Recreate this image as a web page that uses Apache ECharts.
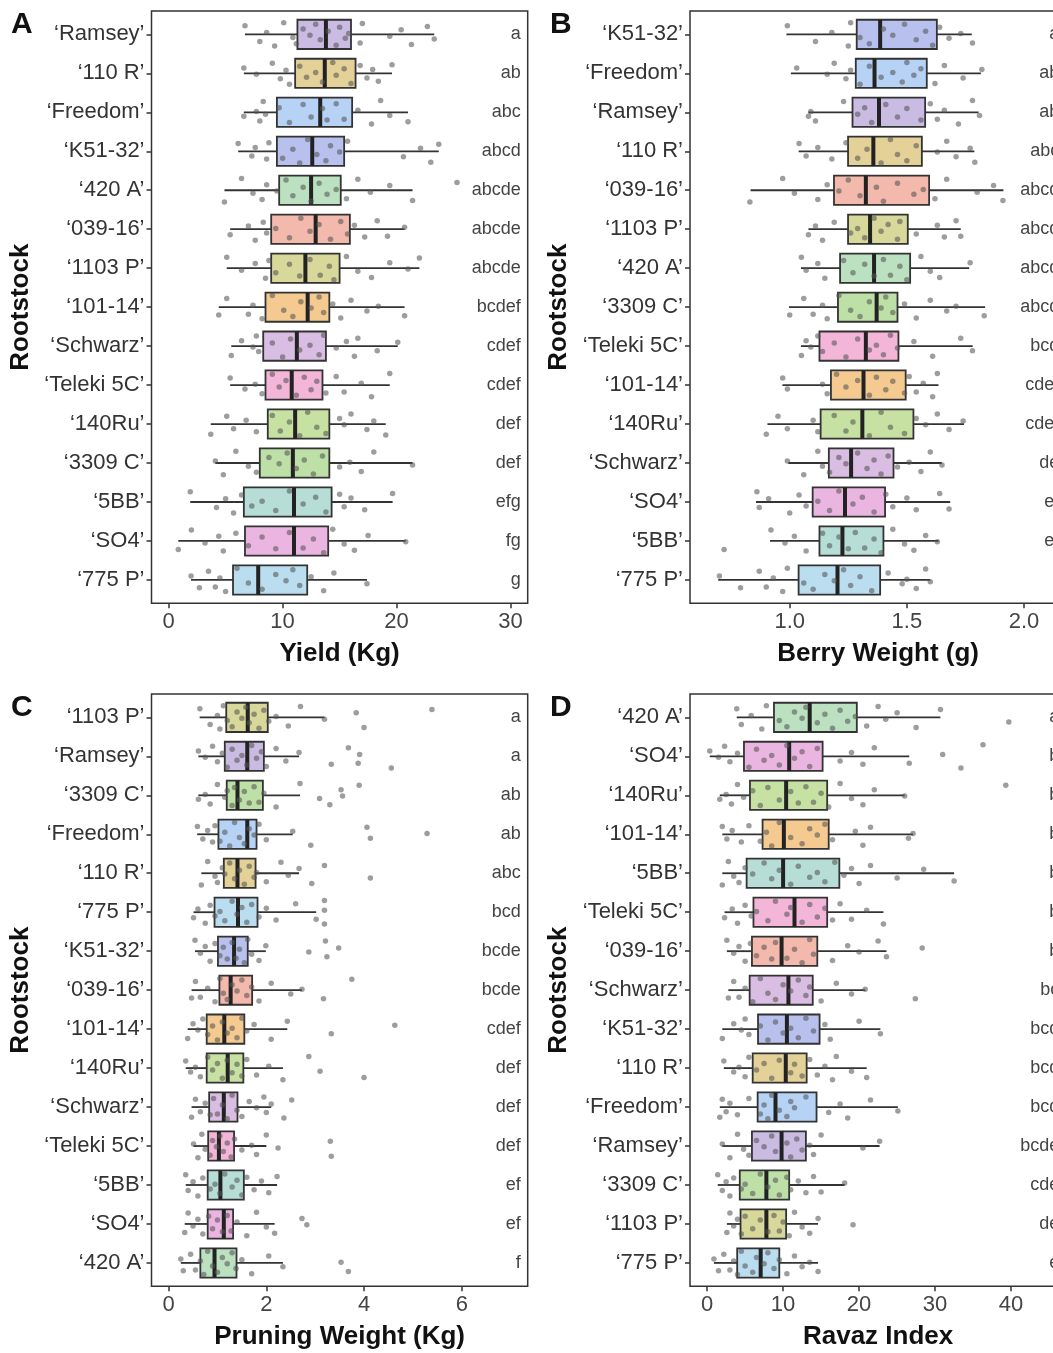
<!DOCTYPE html>
<html><head><meta charset="utf-8">
<script src="https://cdn.jsdelivr.net/npm/echarts@6/dist/echarts.min.js"></script>
<style>html,body{margin:0;padding:0;background:#fff}#c{width:1053px;height:1353px}</style>
</head><body><div id="c"></div><script>
// ---------------- DATA ----------------
// Panel A: Yield (Kg)
const yieldRootstocks = ['Ramsey','110 R','Freedom','K51-32','420 A','039-16','1103 P','101-14','Schwarz','Teleki 5C','140Ru','3309 C','5BB','SO4','775 P'];
const yieldLetters = ['a','ab','abc','abcd','abcde','abcde','abcde','bcdef','cdef','cdef','def','def','efg','fg','g'];
const yieldBoxes = [
  [6.7,11.3,13.8,16.0,23.3],[6.6,11.1,13.7,16.4,19.6],[6.6,9.5,13.3,16.1,21.0],[6.1,9.5,12.6,15.4,23.7],
  [4.9,9.7,12.5,15.1,21.4],[5.4,9.0,12.9,15.9,20.7],[5.1,9.0,12.0,15.0,22.0],[4.4,8.5,12.2,14.1,20.7],
  [5.5,8.3,11.25,13.8,20.1],[5.4,8.5,10.8,13.5,19.4],[3.7,8.7,11.1,14.1,19.05],[4.1,8.0,10.9,14.1,21.4],
  [1.9,6.6,11.0,14.3,19.65],[0.85,6.7,11.0,14.0,20.8],[1.97,5.65,7.86,12.16,17.4]
];
const yieldPoints = [
  [6.7,8.0,8.6,9.3,10.1,10.9,11.2,11.8,12.4,12.9,13.3,14.0,14.7,15.0,15.5,15.8,16.8,17.0,19.4,20.4,21.3,22.7,23.3],
  [6.6,7.7,9.1,9.8,10.3,10.6,11.5,12.1,12.9,13.5,14.4,14.7,15.4,16.0,16.8,17.4,17.9,18.4,19.6],
  [6.6,7.7,8.0,8.3,8.5,9.7,10.6,11.8,12.5,13.5,13.9,14.7,15.4,16.6,17.8,18.6,19.4,21.0],
  [6.1,7.3,7.6,8.6,8.8,10.0,10.9,11.5,12.2,13.0,13.8,14.2,15.0,15.7,20.6,22.1,23.0,23.7],
  [4.9,6.4,7.4,8.2,8.6,9.5,10.3,10.9,11.8,12.5,13.2,13.9,14.7,15.6,16.6,17.7,19.4,21.4,25.3],
  [5.4,7.0,7.6,8.3,8.6,9.4,10.6,11.6,12.4,13.2,14.2,15.1,15.7,16.3,17.2,18.3,19.2,20.7],
  [5.1,6.4,7.6,8.5,8.8,9.4,10.6,11.5,12.4,13.3,14.1,14.5,15.6,16.6,17.8,19.4,21.0,22.0],
  [4.4,5.1,7.0,7.4,8.2,9.1,10.1,10.9,11.6,12.5,13.2,13.6,14.4,15.1,16.0,17.4,18.4,20.7],
  [5.5,6.4,7.4,7.7,7.9,9.1,10.0,10.7,11.5,12.4,13.2,13.6,14.7,15.6,16.3,16.6,18.3,20.1],
  [5.4,6.7,7.6,8.2,9.1,9.7,10.3,11.2,11.9,12.5,13.0,13.8,14.7,15.4,16.9,17.8,19.4],
  [3.7,5.1,5.7,6.8,7.7,9.1,9.8,10.6,11.5,12.2,13.0,13.8,15.0,15.4,16.0,17.4,18.0,19.05],
  [4.1,4.8,5.9,7.0,7.7,8.8,9.7,10.4,11.2,11.9,12.7,13.5,15.0,15.9,16.9,18.0,21.4],
  [1.9,4.2,5.0,5.7,6.4,7.3,8.2,9.4,10.6,11.8,12.9,13.8,15.0,15.4,16.0,17.2,19.65],
  [0.85,2.0,3.2,4.4,4.8,5.9,7.0,8.2,9.4,10.6,11.8,12.7,13.6,14.4,15.4,16.3,17.5,20.8],
  [1.97,2.7,3.5,4.1,4.5,5.0,6.0,7.0,8.2,9.4,10.3,10.9,11.5,12.5,13.6,14.5,17.4]
];
const yieldTicks = [0,10,20,30];

// Panel B: Berry Weight (g)
const berryRootstocks = ['K51-32','Freedom','Ramsey','110 R','039-16','1103 P','420 A','3309 C','Teleki 5C','101-14','140Ru','Schwarz','SO4','5BB','775 P'];
const berryLetters = ['a','ab','ab','abc','abcd','abcd','abcd','abcd','bcd','cdef','cdef','de','ef','ef','f'];
const berryBoxes = [
  [0.986,1.286,1.386,1.628,1.777],[1.005,1.282,1.362,1.585,1.816],[1.08,1.268,1.381,1.578,1.806],[1.038,1.249,1.357,1.564,1.788],
  [0.833,1.189,1.325,1.595,1.912],[1.08,1.249,1.343,1.504,1.73],[1.048,1.215,1.36,1.514,1.766],[0.997,1.206,1.371,1.46,1.834],
  [1.048,1.127,1.325,1.464,1.781],[0.969,1.176,1.315,1.495,1.635],[0.905,1.132,1.31,1.528,1.744],[0.994,1.167,1.262,1.443,1.649],
  [0.856,1.098,1.236,1.407,1.685],[0.916,1.127,1.225,1.4,1.635],[0.695,1.038,1.204,1.386,1.6]
];
const berryPoints = [
  [0.99,1.11,1.18,1.25,1.26,1.30,1.34,1.40,1.44,1.49,1.54,1.58,1.61,1.64,1.68,1.73,1.78],
  [1.03,1.16,1.19,1.24,1.26,1.30,1.34,1.39,1.44,1.48,1.50,1.53,1.56,1.62,1.66,1.74,1.82],
  [1.08,1.09,1.11,1.23,1.29,1.32,1.35,1.41,1.46,1.50,1.56,1.60,1.63,1.66,1.72,1.78,1.81],
  [1.04,1.07,1.12,1.18,1.24,1.29,1.33,1.39,1.43,1.46,1.50,1.54,1.63,1.67,1.71,1.77,1.79],
  [0.83,0.97,1.02,1.12,1.16,1.21,1.25,1.30,1.37,1.40,1.46,1.53,1.57,1.62,1.67,1.80,1.87,1.91],
  [1.08,1.11,1.14,1.19,1.26,1.29,1.32,1.36,1.39,1.42,1.46,1.47,1.54,1.63,1.66,1.71,1.73],
  [1.05,1.07,1.12,1.15,1.23,1.27,1.32,1.36,1.40,1.43,1.47,1.50,1.56,1.60,1.64,1.77],
  [1.00,1.06,1.10,1.14,1.16,1.21,1.26,1.30,1.34,1.39,1.41,1.44,1.49,1.54,1.60,1.67,1.71,1.83],
  [1.05,1.07,1.09,1.12,1.14,1.19,1.24,1.29,1.34,1.37,1.40,1.43,1.46,1.53,1.61,1.73,1.78],
  [0.97,0.99,1.14,1.16,1.20,1.24,1.29,1.34,1.37,1.41,1.44,1.49,1.51,1.54,1.57,1.61,1.63],
  [0.90,0.95,0.99,1.10,1.12,1.19,1.24,1.27,1.34,1.39,1.43,1.49,1.54,1.58,1.63,1.68,1.74],
  [0.99,1.06,1.12,1.14,1.17,1.21,1.24,1.29,1.33,1.36,1.39,1.42,1.46,1.51,1.56,1.60,1.65],
  [0.86,0.87,0.91,1.00,1.04,1.07,1.12,1.17,1.21,1.27,1.31,1.36,1.41,1.44,1.50,1.54,1.64,1.68],
  [0.72,0.92,0.98,1.02,1.07,1.14,1.17,1.21,1.25,1.28,1.32,1.36,1.39,1.44,1.49,1.53,1.58,1.63],
  [0.70,0.79,0.87,0.90,0.93,0.97,0.99,1.06,1.10,1.15,1.19,1.23,1.26,1.30,1.35,1.42,1.48,1.50,1.54,1.58,1.60]
];
const berryTicks = [1.0,1.5,2.0];

// Panel C: Pruning Weight (Kg)
const pruningRootstocks = ['1103 P','Ramsey','3309 C','Freedom','110 R','775 P','K51-32','039-16','101-14','140Ru','Schwarz','Teleki 5C','5BB','SO4','420 A'];
const pruningLetters = ['a','a','ab','ab','abc','bcd','bcde','bcde','cdef','def','def','def','ef','ef','f'];
const pruningBoxes = [
  [0.635,1.18,1.62,2.03,3.19],[0.61,1.15,1.61,1.95,2.67],[0.61,1.19,1.41,1.93,2.69],[0.585,1.02,1.61,1.80,2.54],
  [0.67,1.13,1.41,1.78,2.67],[0.51,0.94,1.42,1.82,3.02],[0.54,1.01,1.34,1.62,1.99],[0.47,1.04,1.27,1.71,2.73],
  [0.39,0.78,1.14,1.55,2.43],[0.35,0.78,1.21,1.53,2.34],[0.47,0.83,1.13,1.41,2.10],[0.51,0.81,1.03,1.34,2.0],
  [0.35,0.80,1.06,1.54,2.22],[0.33,0.80,1.13,1.32,2.17],[0.25,0.65,0.94,1.39,2.34]
];
const pruningPoints = [
  [0.64,0.85,1.0,1.05,1.12,1.2,1.3,1.4,1.5,1.58,1.65,1.75,1.85,1.95,2.05,2.2,2.45,2.7,3.19,3.84,4.0,5.39],
  [0.61,0.75,0.9,1.0,1.1,1.2,1.3,1.4,1.5,1.6,1.7,1.8,1.9,2.0,2.2,2.4,2.67,3.33,3.68,3.88,3.91,4.56],
  [0.61,0.75,0.85,1.0,1.15,1.2,1.3,1.35,1.45,1.55,1.65,1.75,1.85,1.95,2.2,2.69,3.09,3.3,3.53,3.56,3.9],
  [0.59,0.7,0.8,0.9,0.95,1.05,1.15,1.25,1.35,1.45,1.55,1.65,1.75,1.85,2.0,2.54,2.91,4.06,4.13,5.29],
  [0.67,0.8,0.95,1.0,1.1,1.15,1.25,1.35,1.45,1.55,1.65,1.75,1.8,2.0,2.3,2.45,2.67,2.93,3.19,4.13],
  [0.51,0.6,0.75,0.85,0.95,1.05,1.15,1.3,1.4,1.5,1.6,1.7,1.85,2.0,2.2,2.6,3.02,3.19,3.19,3.19],
  [0.54,0.65,0.75,0.85,0.95,1.05,1.12,1.2,1.3,1.38,1.45,1.55,1.62,1.7,1.85,1.99,2.87,3.21,3.24,3.48],
  [0.47,0.55,0.65,0.8,0.95,1.05,1.12,1.2,1.3,1.4,1.5,1.6,1.7,1.85,2.1,2.5,2.73,3.17,3.75],
  [0.39,0.5,0.6,0.7,0.8,0.9,1.0,1.1,1.2,1.3,1.4,1.5,1.6,1.75,2.1,2.43,3.33,4.63],
  [0.35,0.45,0.55,0.65,0.8,0.9,1.0,1.1,1.2,1.3,1.4,1.5,1.6,1.8,2.05,2.34,2.87,3.1,4.0],
  [0.47,0.55,0.65,0.75,0.85,0.92,1.0,1.1,1.2,1.3,1.4,1.5,1.65,1.8,1.95,2.0,2.1,2.36,2.52],
  [0.51,0.6,0.68,0.75,0.85,0.9,0.98,1.05,1.12,1.2,1.28,1.35,1.5,1.7,1.8,2.0,2.24,3.31,3.33],
  [0.35,0.4,0.5,0.6,0.7,0.85,0.95,1.05,1.15,1.3,1.4,1.5,1.6,1.75,1.9,2.05,2.22],
  [0.33,0.4,0.5,0.6,0.7,0.82,0.9,1.0,1.1,1.2,1.28,1.4,1.6,1.8,2.0,2.17,2.73,2.83],
  [0.25,0.3,0.45,0.55,0.65,0.72,0.8,0.9,1.0,1.1,1.2,1.3,1.38,1.5,1.7,2.05,2.34,3.53,3.68]
];
const pruningTicks = [0,2,4,6];

// Panel D: Ravaz Index
const ravazRootstocks = ['420 A','SO4','140Ru','101-14','5BB','Teleki 5C','039-16','Schwarz','K51-32','110 R','Freedom','Ramsey','3309 C','1103 P','775 P'];
const ravazLetters = ['a','b','b','b','b','b','b','bc','bcd','bcd','bcd','bcde','cde','de','e'];
const ravazBoxes = [
  [3.9,8.8,13.5,19.7,30.7],[0.35,4.85,10.8,15.2,26.6],[1.67,5.64,10.4,15.8,26.0],[2.0,7.3,10.1,16.0,27.1],
  [2.0,5.2,10.0,17.4,32.5],[2.3,6.1,11.5,15.8,23.2],[2.6,5.9,9.8,14.5,23.6],[2.8,5.6,10.7,13.9,20.8],
  [2.0,6.7,10.5,14.8,22.8],[2.2,6.0,10.35,13.1,21.0],[1.67,6.65,9.0,14.4,25.1],[2.0,5.9,9.8,13.0,22.7],
  [1.4,4.3,7.8,10.8,18.1],[2.6,4.4,7.8,10.4,14.6],[0.9,3.96,7.05,9.5,14.6]
];
const ravazPoints = [
  [3.9,4.5,5.8,7.2,7.8,9.5,10.5,11.5,12.5,13.0,14.5,15.5,16.5,17.5,18.5,19.5,21.0,22.5,23.5,25.0,27.5,30.7,39.7],
  [0.35,1.5,2.3,3.0,4.0,5.5,6.5,7.5,8.5,9.5,10.5,11.5,12.5,13.5,14.5,17.5,19.0,20.5,22.0,26.6,31.0,33.4,36.3],
  [1.67,2.5,3.2,4.0,4.8,6.0,7.0,8.0,9.5,11.0,12.0,13.0,14.0,15.0,16.0,17.5,19.0,20.5,22.0,26.0,39.3],
  [2.0,2.6,3.3,4.5,5.5,7.0,7.8,8.5,9.5,11.0,12.5,13.5,14.5,15.5,16.5,19.5,20.5,21.5,26.5,27.1],
  [2.0,2.8,3.5,4.2,5.0,6.0,7.5,8.5,9.5,11.0,12.0,13.5,14.5,15.5,16.8,18.0,19.0,20.0,21.5,25.0,28.5,32.5],
  [2.3,3.3,4.0,5.0,5.8,6.5,8.0,9.0,10.5,11.0,12.5,13.5,14.5,15.5,16.5,17.5,19.0,21.0,23.2],
  [2.6,3.5,4.2,5.0,5.7,6.5,7.5,8.5,9.0,10.5,11.5,12.5,13.5,14.0,16.5,18.5,20.0,22.5,23.6,28.3],
  [2.8,3.5,4.2,5.0,6.0,7.0,8.0,9.0,10.0,11.0,12.0,13.0,13.5,15.0,17.0,19.0,20.8,27.4],
  [2.0,3.5,4.5,5.0,5.5,7.0,8.0,9.0,10.0,11.0,12.0,13.0,14.0,15.5,16.2,20.0,22.8],
  [2.2,3.5,4.2,5.0,5.5,6.5,7.5,8.5,9.5,11.0,11.5,12.5,13.5,14.5,15.5,16.5,17.0,19.0,21.0],
  [1.67,2.0,2.5,3.0,4.0,5.5,7.0,7.5,8.0,8.5,9.5,10.5,11.0,11.5,13.0,16.0,17.5,18.5,21.5,25.1],
  [2.0,3.0,4.0,4.8,5.5,6.5,7.5,8.5,9.0,10.5,11.0,11.8,12.5,13.5,14.0,15.0,20.5,22.7],
  [1.4,2.0,2.5,3.0,3.5,4.5,5.0,6.0,7.0,8.0,9.0,9.5,10.5,11.0,12.0,13.0,14.0,15.0,18.1],
  [2.6,3.0,3.5,4.0,4.5,5.0,6.0,7.0,8.0,8.8,9.5,10.0,10.8,11.5,12.5,13.5,14.6,19.2],
  [0.9,1.5,2.2,3.0,3.5,4.0,4.5,5.0,6.0,6.5,7.5,8.0,8.8,9.5,10.5,11.5,12.5,13.5,14.6]
];
const ravazTicks = [0,10,20,30,40];

// ---------------- STYLE ----------------
const FILL = {
  'Ramsey':'#c9bbe2','110 R':'#e4d198','Freedom':'#b6d3f6','K51-32':'#b8c1ee','420 A':'#bbe1c0',
  '039-16':'#f3b9ad','1103 P':'#d7d89a','101-14':'#f4ca90','Schwarz':'#d9bde2','Teleki 5C':'#f3b6d9',
  '140Ru':'#c7e1a2','3309 C':'#bde0a6','5BB':'#b6ded6','SO4':'#eab6e1','775 P':'#badef0'
};
const JITTER = [-0.22,0.18,-0.05,0.3,-0.3,0.08,0.24,-0.14,0.02,-0.26,0.14,-0.08,0.28,-0.18,0.1,-0.02,0.22,-0.28,0.05,-0.12,0.26,-0.2,0.12,-0.1,0.2];
const FONT = 'Liberation Sans, Arial, sans-serif';

const panels = [
  {rs:yieldRootstocks, boxes:yieldBoxes, pts:yieldPoints, letters:yieldLetters, ticks:yieldTicks, min:-1.5, max:31.5, name:'Yield (Kg)', tag:'A', left:151.5, top:11},
  {rs:berryRootstocks, boxes:berryBoxes, pts:berryPoints, letters:berryLetters, ticks:berryTicks, min:0.5745, max:2.18, name:'Berry Weight (g)', tag:'B', left:690, top:11, fmt:v=>v.toFixed(1)},
  {rs:pruningRootstocks, boxes:pruningBoxes, pts:pruningPoints, letters:pruningLetters, ticks:pruningTicks, min:-0.35, max:7.35, name:'Pruning Weight (Kg)', tag:'C', left:151.5, top:694},
  {rs:ravazRootstocks, boxes:ravazBoxes, pts:ravazPoints, letters:ravazLetters, ticks:ravazTicks, min:-2.25, max:47.25, name:'Ravaz Index', tag:'D', left:690, top:694}
];
const W = 376.2, H = 592.3;
const rowIdx = [...Array(15).keys()];

const grid=[], xAxis=[], yAxis=[], series=[], title=[];
panels.forEach((p,i)=>{
  grid.push({left:p.left, top:p.top, width:W, height:H, show:true, borderColor:'#333', borderWidth:1.5,
    backgroundColor:'transparent', containLabel:false, outerBoundsMode:'none'});
  title.push({text:p.tag, left:p.tag==='A'||p.tag==='C'?6:545, top:p.top-6, textStyle:{fontFamily:FONT, fontSize:30, fontWeight:'bold', color:'#111'}});
  xAxis.push({type:'value', gridIndex:i, min:p.min, max:p.max, splitLine:{show:false},
    axisLine:{show:false, onZero:false},
    axisTick:{show:true, length:5, lineStyle:{color:'#333', width:1.5}, customValues:p.ticks},
    axisLabel:{customValues:p.ticks, margin:8, fontFamily:FONT, fontSize:22, color:'#444', formatter:p.fmt||(v=>String(v))},
    name:p.name, nameLocation:'middle', nameGap:38,
    nameTextStyle:{fontFamily:FONT, fontSize:26, fontWeight:'bold', color:'#111'}});
  yAxis.push({type:'value', gridIndex:i, position:'left', min:-0.6, max:14.6, inverse:true, splitLine:{show:false},
    axisLine:{show:false, onZero:false},
    axisTick:{show:true, length:5, lineStyle:{color:'#333', width:1.5}, customValues:rowIdx},
    axisLabel:{customValues:rowIdx, margin:7, fontFamily:FONT, fontSize:22, color:'#333', formatter:v=>'\u2018'+p.rs[Math.round(v)]+'\u2019'},
    name:'Rootstock', nameLocation:'middle', nameGap:118, nameRotate:90,
    nameTextStyle:{fontFamily:FONT, fontSize:26, fontWeight:'bold', color:'#111'}});
  yAxis.push({type:'value', gridIndex:i, position:'right', min:-0.6, max:14.6, inverse:true, splitLine:{show:false},
    axisLine:{show:false, onZero:false}, axisTick:{show:false},
    axisLabel:{inside:true, customValues:rowIdx, margin:7, fontFamily:FONT, fontSize:18, color:'#444', formatter:v=>p.letters[Math.round(v)]}});
  // boxes
  series.push({type:'custom', xAxisIndex:i, yAxisIndex:2*i, z:2, clip:false,
    data:p.boxes.map((b,k)=>[k,b[0],b[1],b[2],b[3],b[4]]),
    renderItem:(params,api)=>{
      const k=api.value(0), mn=api.value(1), q1=api.value(2), md=api.value(3), q3=api.value(4), mx=api.value(5);
      const c=v=>api.coord([v,k]);
      const half=api.size([0,1])[1]*0.375;
      const pMn=c(mn), pQ1=c(q1), pMd=c(md), pQ3=c(q3), pMx=c(mx);
      const cy=pMd[1];
      const ls={stroke:'#333', lineWidth:1.8};
      return {type:'group', children:[
        {type:'line', shape:{x1:pMn[0],y1:cy,x2:pQ1[0],y2:cy}, style:ls},
        {type:'line', shape:{x1:pQ3[0],y1:cy,x2:pMx[0],y2:cy}, style:ls},
        {type:'rect', shape:{x:pQ1[0], y:cy-half, width:pQ3[0]-pQ1[0], height:2*half}, style:{fill:FILL[p.rs[k]], stroke:'#333', lineWidth:1.8}},
        {type:'line', shape:{x1:pMd[0],y1:cy-half,x2:pMd[0],y2:cy+half}, style:{stroke:'#222', lineWidth:4}}
      ]};
    }});
  // jittered points
  const pdata=[];
  p.pts.forEach((arr,k)=>arr.forEach((v,j)=>pdata.push([v, k+JITTER[(j+k*7)%JITTER.length]])));
  series.push({type:'scatter', xAxisIndex:i, yAxisIndex:2*i, z:3, symbolSize:5.5, data:pdata,
    itemStyle:{color:'rgba(85,85,85,0.72)'}, silent:true});
});

const chart = echarts.init(document.getElementById('c'), null, {renderer:'canvas'});
chart.setOption({animation:false, backgroundColor:'#fff', title, grid, xAxis, yAxis, series});
</script></body></html>
